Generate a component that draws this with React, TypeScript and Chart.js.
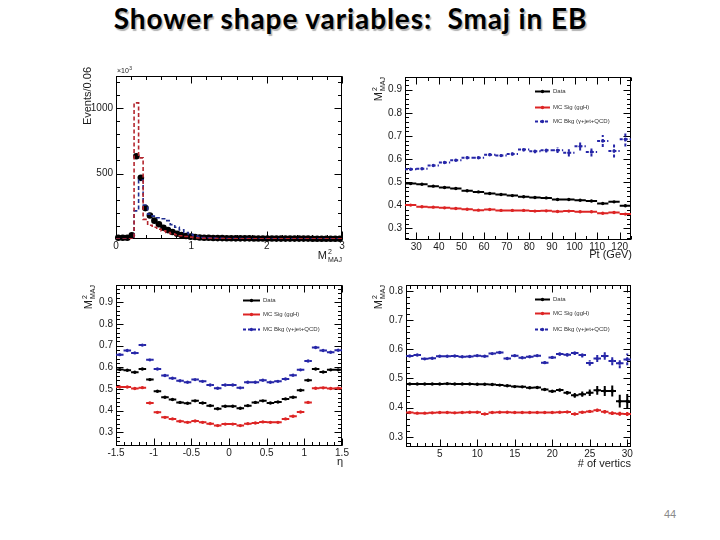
import React, { useEffect, useRef } from "react";
import { Chart, registerables } from "chart.js";

Chart.register(...registerables);

const FONT = "'Liberation Sans', Arial, Helvetica, sans-serif";

// ---------------- Panel 1 : M2_MAJ distribution (Events / 0.06, x10^3) ----------------
const P1_BIN_WIDTH = 0.06;
const P1_DATA = [9, 9, 10, 28, 632, 467, 236, 180, 140, 113, 86, 68, 53, 40, 30, 23, 18, 15, 12, 10, 9, 8, 7, 7, 6, 6, 5, 5, 5, 5, 4, 4, 4, 4, 4, 3, 3, 3, 3, 3, 3, 3, 3, 2, 2, 2, 2, 2, 2, 2];
const P1_SIG = [0, 0, 0, 2, 1040, 620, 150, 105, 90, 75, 62, 50, 40, 32, 25, 19, 14, 10, 8, 6, 5, 4, 3, 3, 2, 2, 2, 2, 1, 1, 1, 1, 1, 1, 1, 1, 1, 1, 1, 1, 1, 1, 1, 1, 1, 1, 1, 1, 1, 1];
const P1_BKG = [0, 0, 0, 0, 215, 450, 260, 190, 175, 162, 155, 140, 110, 90, 70, 50, 35, 25, 18, 12, 9, 7, 6, 5, 4, 4, 3, 3, 3, 3, 2, 2, 2, 2, 2, 2, 2, 2, 2, 2, 2, 2, 2, 2, 2, 2, 2, 2, 2, 2];
const P1_X_TICKS = [0, 1, 2, 3];
const P1_Y_TICKS = [500, 1000];

// ---------------- Panel 2 : <M2_MAJ> vs Pt ----------------
const P2_PT = [27.5, 32.5, 37.5, 42.5, 47.5, 52.5, 57.5, 62.5, 67.5, 72.5, 77.5, 82.5, 87.5, 92.5, 97.5, 102.5, 107.5, 112.5, 117.5, 122.5];
const P2_DATA = [0.494, 0.491, 0.483, 0.477, 0.473, 0.463, 0.458, 0.451, 0.447, 0.442, 0.437, 0.434, 0.432, 0.425, 0.425, 0.422, 0.419, 0.408, 0.415, 0.398];
const P2_SIG = [0.401, 0.394, 0.392, 0.389, 0.386, 0.383, 0.379, 0.382, 0.378, 0.378, 0.378, 0.375, 0.376, 0.373, 0.375, 0.372, 0.372, 0.366, 0.369, 0.362];
const P2_BKG = [0.556, 0.558, 0.572, 0.585, 0.595, 0.606, 0.606, 0.619, 0.615, 0.622, 0.641, 0.634, 0.638, 0.638, 0.627, 0.655, 0.631, 0.678, 0.635, 0.686];
const P2_BKG_ERR = [0.003, 0.003, 0.003, 0.004, 0.004, 0.005, 0.005, 0.006, 0.006, 0.007, 0.008, 0.009, 0.01, 0.012, 0.016, 0.018, 0.02, 0.026, 0.028, 0.032];
const P2_X_TICKS = [30, 40, 50, 60, 70, 80, 90, 100, 110, 120];
const P2_Y_TICKS = [0.3, 0.4, 0.5, 0.6, 0.7, 0.8, 0.9];

// ---------------- Panel 3 : <M2_MAJ> vs eta ----------------
const P3_ETA = [-1.45, -1.35, -1.25, -1.15, -1.05, -0.95, -0.85, -0.75, -0.65, -0.55, -0.45, -0.35, -0.25, -0.15, -0.05, 0.05, 0.15, 0.25, 0.35, 0.45, 0.55, 0.65, 0.75, 0.85, 0.95, 1.05, 1.15, 1.25, 1.35, 1.45];
const P3_DATA = [0.589, 0.586, 0.577, 0.592, 0.543, 0.489, 0.462, 0.451, 0.438, 0.434, 0.445, 0.435, 0.423, 0.409, 0.42, 0.42, 0.411, 0.423, 0.438, 0.445, 0.435, 0.44, 0.454, 0.462, 0.494, 0.54, 0.592, 0.578, 0.588, 0.588];
const P3_SIG = [0.509, 0.509, 0.502, 0.506, 0.435, 0.392, 0.369, 0.362, 0.351, 0.346, 0.352, 0.346, 0.34, 0.331, 0.338, 0.338, 0.331, 0.34, 0.343, 0.348, 0.346, 0.346, 0.362, 0.374, 0.394, 0.438, 0.503, 0.505, 0.502, 0.503];
const P3_BKG = [0.658, 0.677, 0.666, 0.702, 0.634, 0.592, 0.562, 0.549, 0.538, 0.531, 0.543, 0.535, 0.518, 0.503, 0.518, 0.518, 0.505, 0.531, 0.531, 0.54, 0.531, 0.535, 0.546, 0.563, 0.588, 0.629, 0.691, 0.677, 0.669, 0.678];
const P3_X_TICKS = [-1.5, -1, -0.5, 0, 0.5, 1, 1.5];
const P3_Y_TICKS = [0.3, 0.4, 0.5, 0.6, 0.7, 0.8, 0.9];

// ---------------- Panel 4 : <M2_MAJ> vs number of vertices ----------------
const P4_NVTX = [1, 2, 3, 4, 5, 6, 7, 8, 9, 10, 11, 12, 13, 14, 15, 16, 17, 18, 19, 20, 21, 22, 23, 24, 25, 26, 27, 28, 29, 30];
const P4_DATA = [0.481, 0.481, 0.481, 0.481, 0.481, 0.482, 0.481, 0.481, 0.481, 0.48, 0.48, 0.479, 0.477, 0.475, 0.472, 0.471, 0.468, 0.469, 0.462, 0.456, 0.46, 0.451, 0.442, 0.446, 0.451, 0.459, 0.457, 0.457, 0.422, 0.422];
const P4_DATA_ERR = [0.002, 0.002, 0.002, 0.002, 0.002, 0.002, 0.002, 0.002, 0.002, 0.002, 0.002, 0.002, 0.002, 0.002, 0.002, 0.002, 0.002, 0.002, 0.003, 0.004, 0.005, 0.006, 0.008, 0.009, 0.011, 0.015, 0.017, 0.019, 0.022, 0.025];
const P4_SIG = [0.383, 0.381, 0.381, 0.382, 0.383, 0.383, 0.382, 0.383, 0.384, 0.384, 0.378, 0.383, 0.384, 0.384, 0.383, 0.383, 0.383, 0.383, 0.383, 0.383, 0.384, 0.385, 0.378, 0.384, 0.387, 0.391, 0.386, 0.381, 0.379, 0.378];
const P4_SIG_ERR = [0.002, 0.002, 0.002, 0.002, 0.002, 0.002, 0.002, 0.002, 0.002, 0.002, 0.002, 0.002, 0.002, 0.002, 0.002, 0.002, 0.002, 0.002, 0.002, 0.002, 0.003, 0.003, 0.004, 0.004, 0.005, 0.005, 0.006, 0.006, 0.007, 0.007];
const P4_BKG = [0.577, 0.58, 0.567, 0.569, 0.576, 0.576, 0.577, 0.574, 0.575, 0.578, 0.576, 0.585, 0.589, 0.568, 0.578, 0.571, 0.574, 0.578, 0.554, 0.572, 0.584, 0.581, 0.587, 0.58, 0.553, 0.568, 0.577, 0.56, 0.552, 0.565];
const P4_BKG_ERR = [0.003, 0.003, 0.003, 0.003, 0.003, 0.003, 0.003, 0.003, 0.003, 0.003, 0.003, 0.003, 0.003, 0.003, 0.003, 0.003, 0.003, 0.003, 0.005, 0.005, 0.006, 0.006, 0.007, 0.008, 0.01, 0.012, 0.013, 0.015, 0.017, 0.02];
const P4_X_TICKS = [5, 10, 15, 20, 25, 30];
const P4_Y_TICKS = [0.3, 0.4, 0.5, 0.6, 0.7, 0.8];

const LEGEND_LABELS = ["Data", "MC Sig (ggH)", "MC Bkg (\u03b3+jet+QCD)"];

const C_DATA = "#000000";
const C_SIG = "#dd2424";
const C_BKG = "#2626a8";
const C_HSIG = "#b3262e";
const C_HBKG = "#1f2d8f";

type Txt = { t: string; x: number; y: number; size: number; rot?: boolean; align?: "left" | "right" };
type Spec = {
  left: number; top: number; w: number; h: number;
  area: { l: number; t: number; r: number; b: number };
  x: { min: number; max: number; ticks: number[]; minor: number; fmt: (v: number) => string };
  y: { min: number; max: number; ticks: number[]; minor: number; fmt: (v: number) => string };
  datasets: any[];
  legend?: { x1: number; x2: number; tx: number; rows: number[]; dashes: (number[])[]; colors: string[] };
  texts: Txt[];
};

function profileDatasets(xs: number[], ys: number[], halfW: number, err: number[] | null, color: string, dash: number[]) {
  const seg: any[] = [];
  xs.forEach((x, i) => {
    seg.push({ x: x - halfW, y: ys[i] }, { x: x + halfW, y: ys[i] }, { x, y: null });
    const e = err ? err[i] : 0;
    if (e) seg.push({ x, y: ys[i] - e }, { x, y: ys[i] + e }, { x, y: null });
  });
  return [
    { data: seg, borderColor: color, borderWidth: 2, borderDash: dash, pointRadius: 0, spanGaps: false, tension: 0, fill: false },
    { data: xs.map((x, i) => ({ x, y: ys[i] })), showLine: false, pointRadius: 1.7, pointBackgroundColor: color, pointBorderColor: color, pointBorderWidth: 0 },
  ];
}

function histDataset(vals: number[], binW: number, color: string) {
  const pts = vals.map((v, i) => ({ x: i * binW, y: v }));
  pts.push({ x: vals.length * binW, y: vals[vals.length - 1] });
  return { data: pts, stepped: true, borderColor: color, borderWidth: 1.6, borderDash: [4, 2.5], pointRadius: 0, fill: false, tension: 0 };
}

function drawMmaj(ctx: CanvasRenderingContext2D, x: number, y: number, size: number, align: string) {
  ctx.font = `${size}px ${FONT}`;
  const wM = ctx.measureText("M").width;
  const small = Math.round(size * 0.64);
  ctx.font = `${small}px ${FONT}`;
  const wS = ctx.measureText("MAJ").width;
  const x0 = align === "right" ? x - wM - 1 - wS : x;
  ctx.textAlign = "left";
  ctx.textBaseline = "alphabetic";
  ctx.font = `${size}px ${FONT}`;
  ctx.fillText("M", x0, y);
  ctx.font = `${small}px ${FONT}`;
  ctx.fillText("2", x0 + wM + 1, y - size * 0.42);
  ctx.fillText("MAJ", x0 + wM + 1, y + size * 0.28);
}

function drawTxt(ctx: CanvasRenderingContext2D, t: Txt) {
  ctx.save();
  ctx.fillStyle = "#1a1a1a";
  let x = t.x, y = t.y;
  if (t.rot) {
    ctx.translate(t.x, t.y);
    ctx.rotate(-Math.PI / 2);
    x = 0; y = 0;
  }
  const align = t.align || "right";
  if (t.t === "MMAJ") {
    drawMmaj(ctx, x, y, t.size, align);
  } else if (t.t === "x10^3") {
    ctx.font = `${t.size}px ${FONT}`;
    ctx.textAlign = "left";
    ctx.fillText("\u00d710", x, y);
    const w = ctx.measureText("\u00d710").width;
    ctx.font = `${Math.round(t.size * 0.7)}px ${FONT}`;
    ctx.fillText("3", x + w + 0.5, y - t.size * 0.4);
  } else {
    ctx.font = `${t.size}px ${FONT}`;
    ctx.textAlign = align;
    ctx.textBaseline = "alphabetic";
    ctx.fillText(t.t, x, y);
  }
  ctx.restore();
}

function axis(pos: "left" | "bottom", a: Spec["x"], size: number) {
  return {
    type: "linear",
    position: pos,
    min: a.min,
    max: a.max,
    grid: { display: false, drawTicks: false, tickLength: 0 },
    border: { display: false },
    afterBuildTicks: (sc: any) => {
      sc.ticks = a.ticks.map((v) => ({ value: v }));
    },
    afterFit: (sc: any) => {
      if (pos === "left") sc.width = size;
      else sc.height = size;
    },
    ticks: {
      autoSkip: false,
      maxRotation: 0,
      minRotation: 0,
      padding: pos === "left" ? 3 : 1,
      color: "#1a1a1a",
      font: { family: FONT, size: 10 },
      callback: (v: any) => a.fmt(Number(v)),
    },
  };
}

function makeChart(canvas: HTMLCanvasElement, s: Spec) {
  const deco = {
    id: "deco",
    beforeDatasetsDraw(chart: any) {
      const { ctx, chartArea: ar } = chart;
      const xs = chart.scales.x, ys = chart.scales.y;
      const L = Math.round(ar.left) + 0.5, R = Math.round(ar.right) - 0.5;
      const T = Math.round(ar.top) + 0.5, B = Math.round(ar.bottom) - 0.5;
      ctx.save();
      ctx.strokeStyle = "#000";
      ctx.lineWidth = 1;
      ctx.strokeRect(L, T, R - L, B - T);
      ctx.beginPath();
      const tx = (v: number, len: number) => {
        const p = Math.round(xs.getPixelForValue(v)) + 0.5;
        ctx.moveTo(p, B); ctx.lineTo(p, B - len);
        ctx.moveTo(p, T); ctx.lineTo(p, T + len);
      };
      const ty = (v: number, len: number) => {
        const p = Math.round(ys.getPixelForValue(v)) + 0.5;
        ctx.moveTo(L, p); ctx.lineTo(L + len, p);
        ctx.moveTo(R, p); ctx.lineTo(R - len, p);
      };
      for (let k = Math.ceil(s.x.min / s.x.minor - 1e-6); k * s.x.minor <= s.x.max + 1e-9; k++) tx(k * s.x.minor, 3.5);
      for (let k = Math.ceil(s.y.min / s.y.minor - 1e-6); k * s.y.minor <= s.y.max + 1e-9; k++) ty(k * s.y.minor, 3.5);
      s.x.ticks.forEach((v) => tx(v, 7));
      s.y.ticks.forEach((v) => ty(v, 7));
      ctx.stroke();
      ctx.restore();
    },
    afterDatasetsDraw(chart: any) {
      const { ctx, chartArea: ar } = chart;
      if (s.legend) {
        const lg = s.legend;
        LEGEND_LABELS.forEach((lab, i) => {
          const y = Math.round(ar.top + lg.rows[i]) + 0.5;
          ctx.save();
          ctx.strokeStyle = lg.colors[i];
          ctx.fillStyle = lg.colors[i];
          ctx.lineWidth = 2;
          ctx.setLineDash(lg.dashes[i]);
          ctx.beginPath();
          ctx.moveTo(ar.left + lg.x1, y);
          ctx.lineTo(ar.left + lg.x2, y);
          ctx.stroke();
          ctx.setLineDash([]);
          ctx.beginPath();
          ctx.arc(ar.left + (lg.x1 + lg.x2) / 2, y, 1.7, 0, Math.PI * 2);
          ctx.fill();
          ctx.fillStyle = "#333";
          ctx.font = `6px ${FONT}`;
          ctx.textAlign = "left";
          ctx.textBaseline = "middle";
          ctx.fillText(lab, ar.left + lg.tx, y);
          ctx.restore();
        });
      }
      s.texts.forEach((t) => drawTxt(ctx, t));
    },
  };
  return new Chart(canvas, {
    type: "line",
    data: { datasets: s.datasets },
    options: {
      responsive: false,
      maintainAspectRatio: false,
      animation: false,
      devicePixelRatio: 1,
      events: [],
      layout: { padding: { left: 0, top: s.area.t, right: s.w - s.area.r, bottom: 0 } },
      scales: {
        x: axis("bottom", s.x, s.h - s.area.b) as any,
        y: axis("left", s.y, s.area.l) as any,
      },
      plugins: { legend: { display: false }, title: { display: false }, tooltip: { enabled: false } },
    },
    plugins: [deco],
  } as any);
}

const fmt1 = (v: number) => v.toFixed(1);
const fmtN = (v: number) => String(+v.toFixed(2));

const LEG_COLORS = [C_DATA, C_SIG, C_BKG];
const LEG_DASH = [[], [], [3, 2]];

const SPECS: Spec[] = [
  {
    left: 70, top: 55, w: 290, h: 220,
    area: { l: 46, t: 21, r: 272, b: 184 },
    x: { min: 0, max: 3, ticks: P1_X_TICKS, minor: 0.2, fmt: fmtN },
    y: { min: 0, max: 1245, ticks: P1_Y_TICKS, minor: 100, fmt: fmtN },
    datasets: [
      histDataset(P1_SIG, P1_BIN_WIDTH, C_HSIG),
      histDataset(P1_BKG, P1_BIN_WIDTH, C_HBKG),
      { data: P1_DATA.map((v, i) => ({ x: (i + 0.5) * P1_BIN_WIDTH, y: v })), showLine: false, pointRadius: 3.3, pointBackgroundColor: "#000", pointBorderWidth: 0, clip: false },
    ],
    texts: [
      { t: "Events/0.06", x: 21, y: 12, size: 11, rot: true, align: "right" },
      { t: "x10^3", x: 47, y: 18, size: 7 },
      { t: "MMAJ", x: 272, y: 203.5, size: 11, align: "right" },
    ],
  },
  {
    left: 360, top: 55, w: 290, h: 220,
    area: { l: 45, t: 22, r: 271, b: 185 },
    x: { min: 25, max: 125, ticks: P2_X_TICKS, minor: 5, fmt: fmtN },
    y: { min: 0.25, max: 0.955, ticks: P2_Y_TICKS, minor: 0.02, fmt: fmt1 },
    datasets: [
      ...profileDatasets(P2_PT, P2_BKG, 2.5, P2_BKG_ERR, C_BKG, [3, 2]),
      ...profileDatasets(P2_PT, P2_DATA, 2.5, null, C_DATA, []),
      ...profileDatasets(P2_PT, P2_SIG, 2.5, null, C_SIG, []),
    ],
    legend: { x1: 130, x2: 145, tx: 148, rows: [14, 30, 44], dashes: LEG_DASH, colors: LEG_COLORS },
    texts: [
      { t: "MMAJ", x: 22, y: 22, size: 11, rot: true, align: "right" },
      { t: "Pt (GeV)", x: 272, y: 203, size: 11, align: "right" },
    ],
  },
  {
    left: 70, top: 270, w: 290, h: 210,
    area: { l: 46, t: 15, r: 272, b: 176 },
    x: { min: -1.5, max: 1.5, ticks: P3_X_TICKS, minor: 0.1, fmt: fmtN },
    y: { min: 0.237, max: 0.979, ticks: P3_Y_TICKS, minor: 0.02, fmt: fmt1 },
    datasets: [
      ...profileDatasets(P3_ETA, P3_BKG, 0.05, null, C_BKG, [3, 2]),
      ...profileDatasets(P3_ETA, P3_DATA, 0.05, null, C_DATA, []),
      ...profileDatasets(P3_ETA, P3_SIG, 0.05, null, C_SIG, []),
    ],
    legend: { x1: 127, x2: 144, tx: 147, rows: [15, 29, 44], dashes: LEG_DASH, colors: LEG_COLORS },
    texts: [
      { t: "MMAJ", x: 22, y: 15, size: 11, rot: true, align: "right" },
      { t: "\u03b7", x: 273, y: 195, size: 11, align: "right" },
    ],
  },
  {
    left: 360, top: 270, w: 290, h: 210,
    area: { l: 46, t: 15, r: 271, b: 177 },
    x: { min: 0.5, max: 30.5, ticks: P4_X_TICKS, minor: 1, fmt: fmtN },
    y: { min: 0.265, max: 0.82, ticks: P4_Y_TICKS, minor: 0.02, fmt: fmt1 },
    datasets: [
      ...profileDatasets(P4_NVTX, P4_BKG, 0.5, P4_BKG_ERR, C_BKG, [3, 2]),
      ...profileDatasets(P4_NVTX, P4_DATA, 0.5, P4_DATA_ERR, C_DATA, []),
      ...profileDatasets(P4_NVTX, P4_SIG, 0.5, P4_SIG_ERR, C_SIG, []),
    ],
    legend: { x1: 129, x2: 144, tx: 147, rows: [14, 28, 44], dashes: LEG_DASH, colors: LEG_COLORS },
    texts: [
      { t: "MMAJ", x: 22, y: 15, size: 11, rot: true, align: "right" },
      { t: "# of vertics", x: 271, y: 197, size: 11, align: "right" },
    ],
  },
];

function Panel({ spec }: { spec: Spec }) {
  const ref = useRef<HTMLCanvasElement>(null);
  useEffect(() => {
    const chart = makeChart(ref.current as HTMLCanvasElement, spec);
    return () => chart.destroy();
  }, [spec]);
  return (
    <canvas
      ref={ref}
      width={spec.w}
      height={spec.h}
      style={{ position: "absolute", left: spec.left, top: spec.top, width: spec.w, height: spec.h }}
    />
  );
}

export default function App() {
  return (
    <div style={{ position: "absolute", left: 0, top: 0, width: 720, height: 540, background: "#fff", overflow: "hidden" }}>
      <div
        style={{
          position: "absolute",
          left: 0,
          width: 701,
          top: 2,
          textAlign: "center",
          whiteSpace: "pre",
          fontFamily: "Lato, 'Open Sans', sans-serif",
          fontWeight: 700,
          fontSize: 28,
          letterSpacing: 0.9,
          lineHeight: "32px",
          color: "#000",
          textShadow: "1.5px 1.5px 1px rgba(0,0,0,0.3)",
        }}
      >
        {"Shower shape variables:  Smaj in EB"}
      </div>
      {SPECS.map((s, i) => (
        <Panel key={i} spec={s} />
      ))}
      <div style={{ position: "absolute", left: 664, top: 508, fontFamily: FONT, fontSize: 11, color: "#8a8a8a" }}>44</div>
    </div>
  );
}
